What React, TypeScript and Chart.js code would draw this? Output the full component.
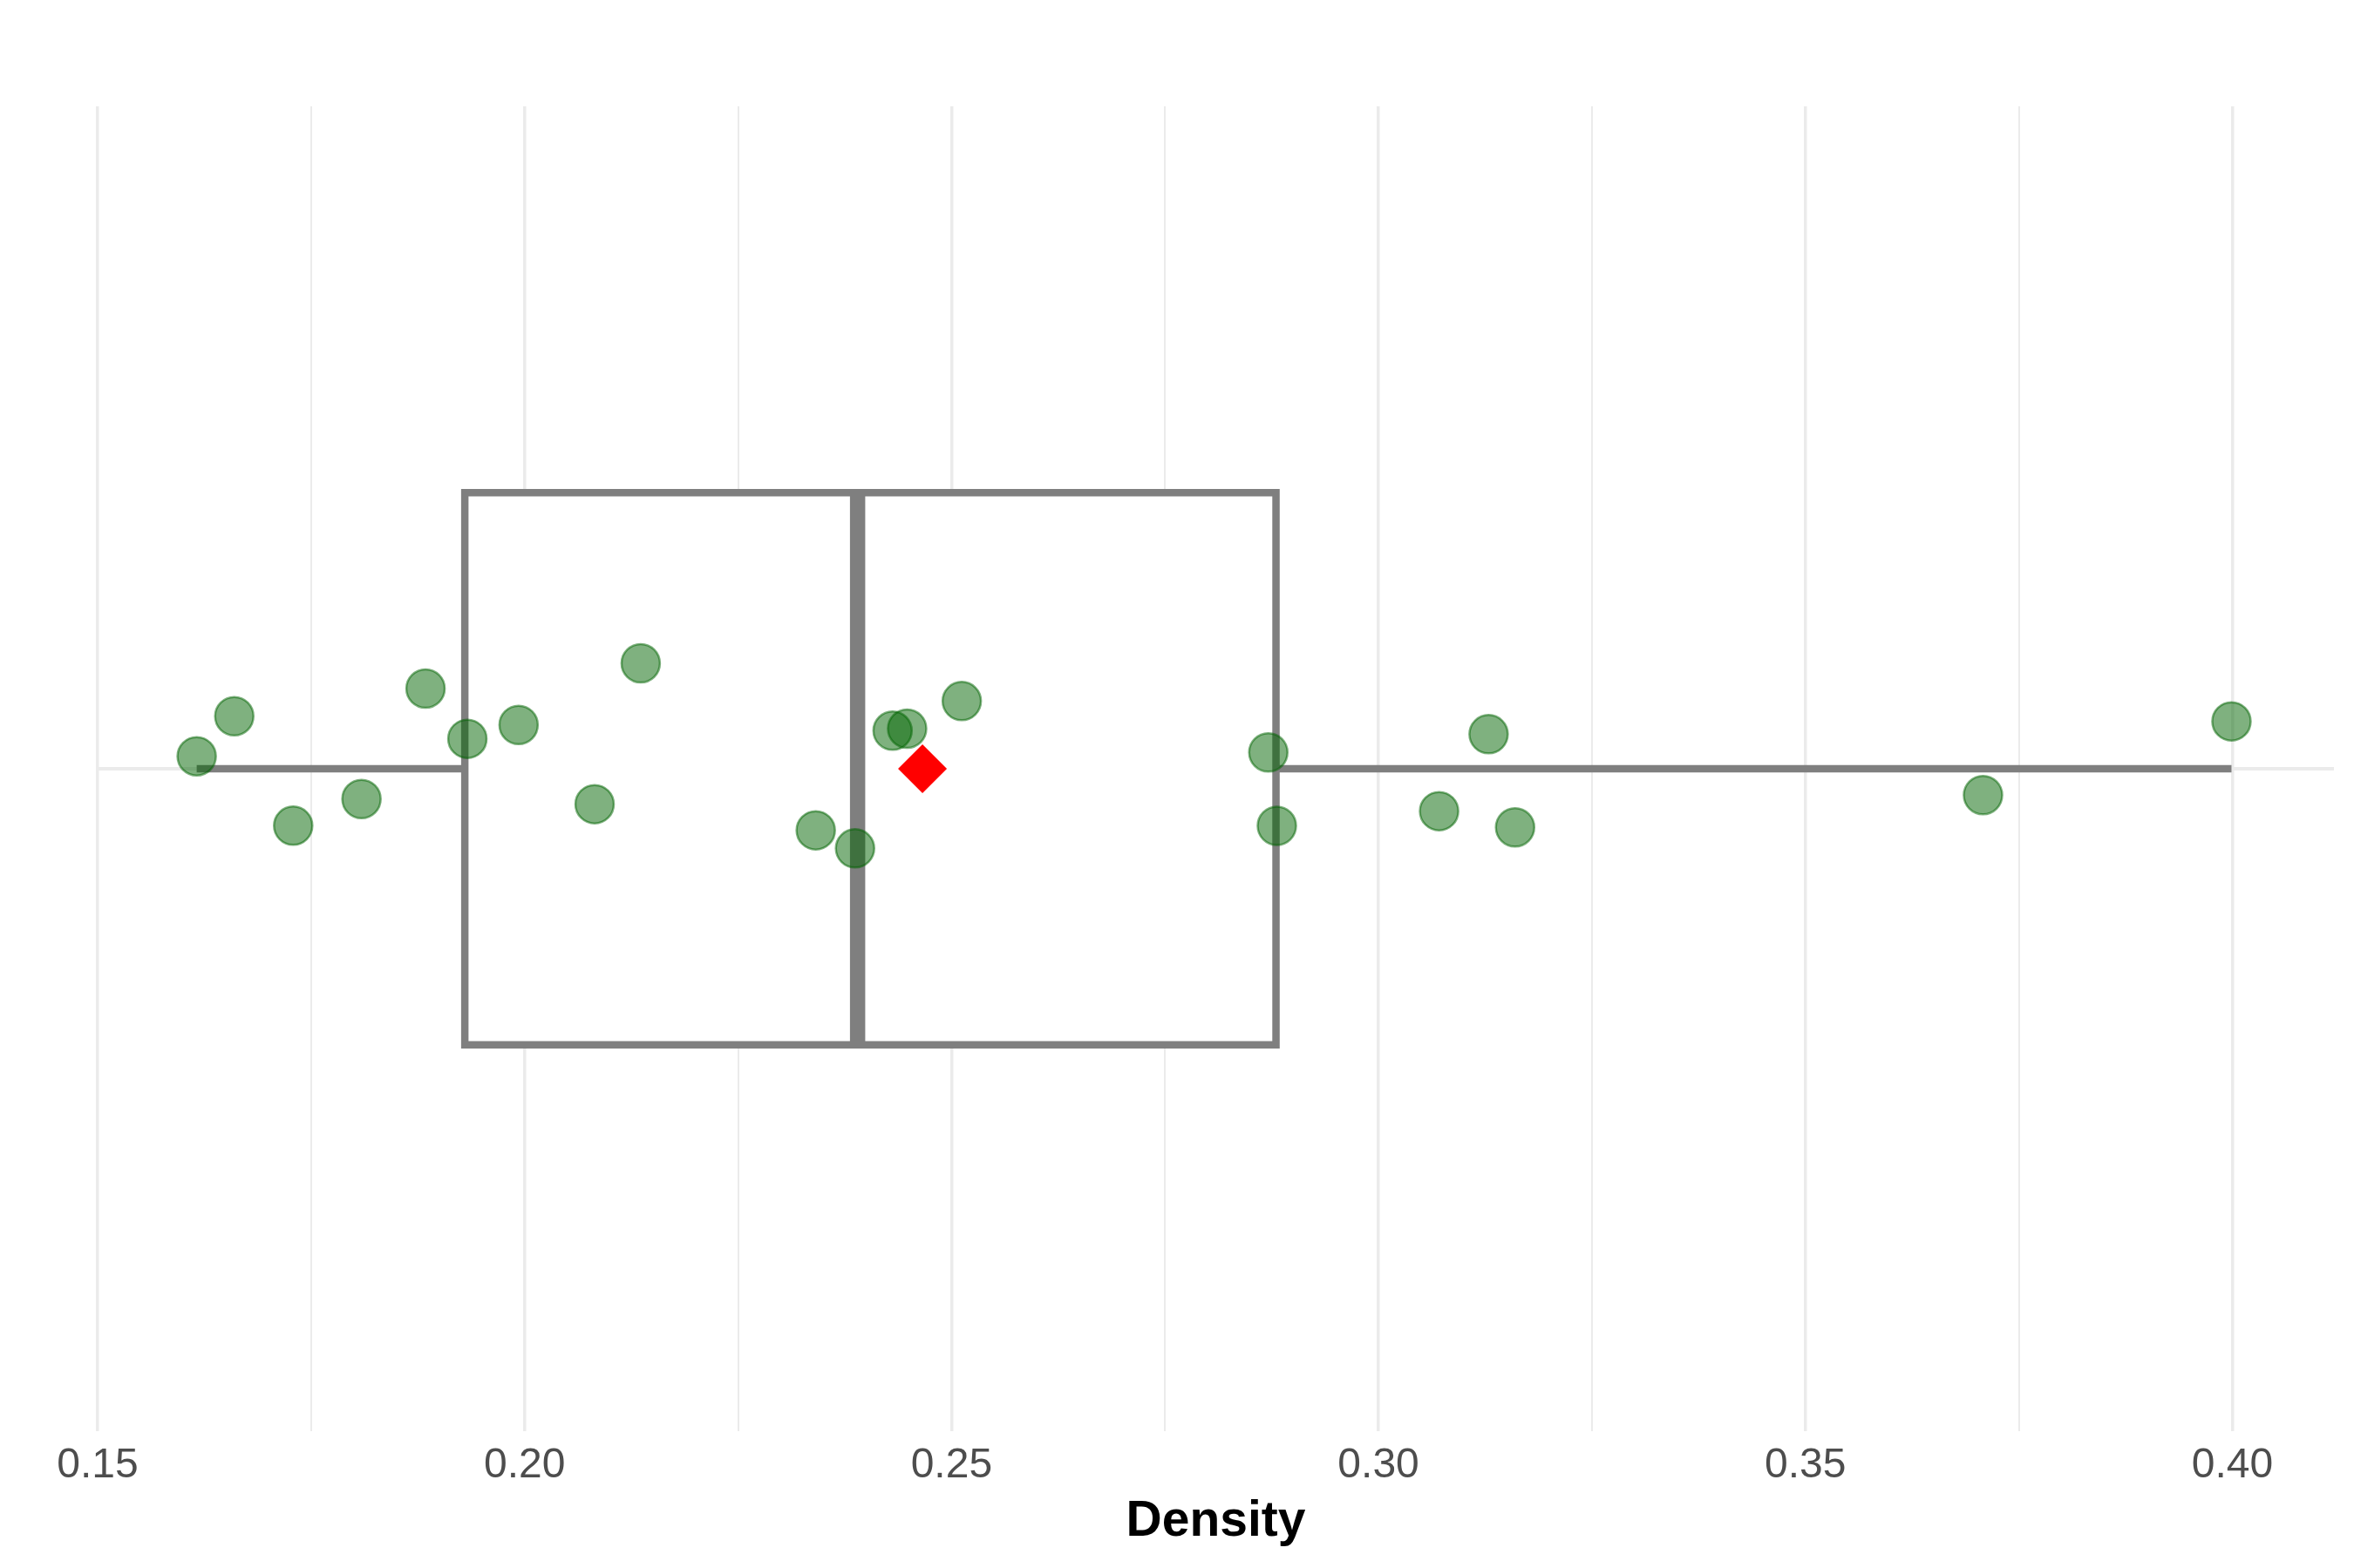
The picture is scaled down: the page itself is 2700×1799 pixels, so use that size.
import React, { useEffect, useRef } from 'react';
import { Chart, registerables } from 'chart.js';

Chart.register(...registerables);

// Observed density values (x) and their vertical jitter around the single category (y = 1)
const densityValues = [
  0.1616, 0.1660, 0.1884, 0.1933, 0.1993, 0.2136, 0.1809, 0.1729, 0.2082, 0.2341, 0.2387,
  0.2431, 0.2448, 0.2512, 0.2871, 0.2881, 0.3129, 0.3071, 0.3160, 0.3708, 0.3999,
];
const jitterPositions = [
  1.0113, 1.0476, 1.0726, 1.0271, 1.0397, 1.0955, 0.9726, 0.9484, 0.9679, 0.9442, 0.9279,
  1.0345, 1.0363, 1.0613, 1.0148, 0.9483, 1.0313, 0.9616, 0.9469, 0.9761, 1.0429,
];
// Box plot statistics: min, Q1, median, Q3, max
const boxStats = [0.1616, 0.1930, 0.2390, 0.2880, 0.3999];
const meanValue = [0.2466];

const tickValues = [0.15, 0.175, 0.2, 0.225, 0.25, 0.275, 0.3, 0.325, 0.35, 0.375, 0.4];
const tickLabels = ['0.15', '', '0.20', '', '0.25', '', '0.30', '', '0.35', '', '0.40'];
const axisTitle = 'Density';

const CATEGORY = 1;
const HALF_BOX = 0.25;
const FONT = '"Liberation Sans", Arial, Helvetica, sans-serif';

export default function App() {
  const ref = useRef<HTMLCanvasElement | null>(null);

  useEffect(() => {
    if (!ref.current) return;
    const [wMin, q1, med, q3, wMax] = boxStats;
    const lo = CATEGORY - HALF_BOX;
    const hi = CATEGORY + HALF_BOX;

    const chart = new Chart(ref.current, {
      type: 'scatter',
      data: {
        datasets: [
          {
            label: 'points',
            data: densityValues.map((v, i) => ({ x: v, y: jitterPositions[i] })),
            pointRadius: 22,
            pointBorderWidth: 2.5,
            pointBackgroundColor: 'rgba(0,100,0,0.5)',
            pointBorderColor: 'rgba(0,100,0,0.5)',
            showLine: false,
          } as any,
          {
            label: 'mean',
            data: meanValue.map((v) => ({ x: v, y: CATEGORY })),
            pointStyle: 'rectRot',
            pointRadius: 28,
            pointBorderWidth: 0,
            pointBackgroundColor: '#FF0000',
            pointBorderColor: '#FF0000',
            showLine: false,
          } as any,
          {
            type: 'line',
            label: 'median',
            data: [
              { x: med, y: lo },
              { x: med, y: hi },
            ],
            borderColor: '#7F7F7F',
            borderWidth: 17.5,
            borderCapStyle: 'butt',
            pointRadius: 0,
            fill: false,
          } as any,
          {
            type: 'line',
            label: 'box',
            data: [
              { x: q1, y: lo },
              { x: q3, y: lo },
              { x: q3, y: hi },
              { x: q1, y: hi },
              { x: q1, y: lo },
            ],
            borderColor: '#7F7F7F',
            backgroundColor: '#FFFFFF',
            borderWidth: 8.5,
            borderJoinStyle: 'miter',
            borderCapStyle: 'square',
            pointRadius: 0,
            fill: 'shape',
          } as any,
          {
            type: 'line',
            label: 'lowerWhisker',
            data: [
              { x: wMin, y: CATEGORY },
              { x: q1, y: CATEGORY },
            ],
            borderColor: '#7F7F7F',
            borderWidth: 8.5,
            pointRadius: 0,
            fill: false,
          } as any,
          {
            type: 'line',
            label: 'upperWhisker',
            data: [
              { x: q3, y: CATEGORY },
              { x: wMax, y: CATEGORY },
            ],
            borderColor: '#7F7F7F',
            borderWidth: 8.5,
            pointRadius: 0,
            fill: false,
          } as any,
        ],
      },
      options: {
        animation: false,
        responsive: false,
        devicePixelRatio: 1,
        events: [],
        layout: { autoPadding: false, padding: { left: 112, right: 23, top: 122, bottom: 0 } },
        plugins: {
          legend: { display: false },
          tooltip: { enabled: false },
        },
        scales: {
          x: {
            type: 'linear',
            position: 'bottom',
            min: 0.15,
            max: 0.4119,
            afterBuildTicks: (s: any) => {
              s.ticks = tickValues.map((v) => ({ value: v }));
            },
            afterFit: (s: any) => {
              s.height = 157;
            },
            ticks: {
              autoSkip: false,
              maxRotation: 0,
              minRotation: 0,
              padding: 11,
              color: '#4D4D4D',
              font: { family: FONT, size: 48 },
              callback: (_v: any, i: number) => tickLabels[i],
            },
            grid: {
              color: '#EBEBEB',
              lineWidth: (c: any) => (c.index % 2 === 0 ? 3.5 : 2),
              drawTicks: false,
            },
            border: { display: false },
            title: {
              display: true,
              text: axisTitle,
              color: '#000000',
              font: { family: FONT, size: 57, weight: 'bold' },
              padding: { top: 0, bottom: 19 },
            },
          },
          y: {
            type: 'linear',
            min: 0.4,
            max: 1.6,
            afterBuildTicks: (s: any) => {
              s.ticks = [{ value: CATEGORY }];
            },
            afterFit: (s: any) => {
              s.width = 0;
            },
            ticks: { display: false },
            grid: { color: '#EBEBEB', lineWidth: 4, drawTicks: false },
            border: { display: false },
          },
        },
      } as any,
    });
    return () => chart.destroy();
  }, []);

  return (
    <div style={{ position: 'absolute', left: 0, top: 0, width: 2700, height: 1799, background: '#FFFFFF' }}>
      <canvas ref={ref} width={2700} height={1799} style={{ display: 'block' }} />
    </div>
  );
}
